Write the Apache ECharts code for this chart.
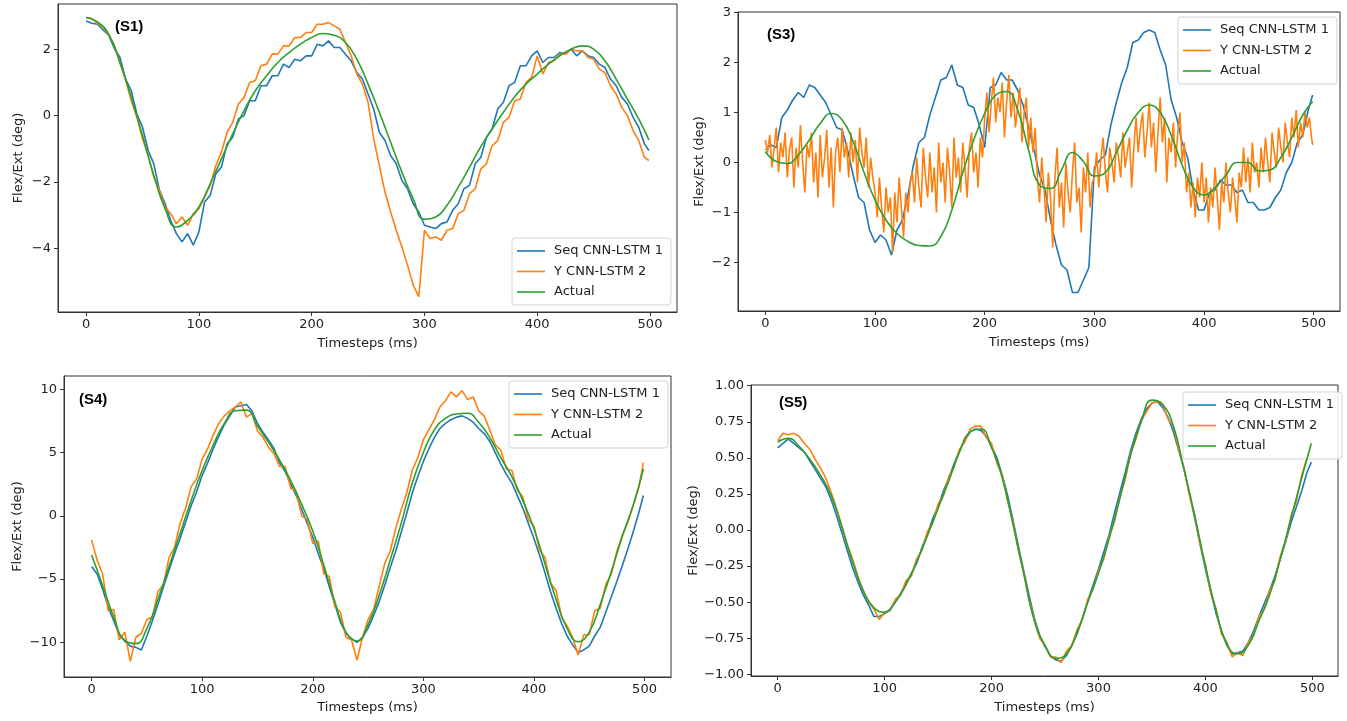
<!DOCTYPE html>
<html>
<head>
<meta charset="utf-8">
<script src="https://cdn.jsdelivr.net/npm/echarts@6/dist/echarts.min.js"></script>
<style>
  html, body { margin: 0; padding: 0; background: #fff; }
  #main { width: 1347px; height: 721px; }
</style>
</head>
<body>
<div id="main"></div>
<script>
// timesteps (ms): most predictions read every 5 ms, the very noisy S3 one every 2 ms, actual every 10 ms
function steps(n) {
  var out = [];
  for (var i = 0; i < 500; i += n) out.push(i);
  out.push(499);
  return out;
}
var t2 = steps(2);
var t5 = steps(5);
var t10 = steps(10);

var names = ['Seq CNN-LSTM 1', 'Y CNN-LSTM 2', 'Actual'];
var xTicks = [0, 100, 200, 300, 400, 500];

// ---- (S1)
var s1Seq = [2.85,2.78,2.75,2.58,2.42,2.02,1.75,1.1,0.75,0.05,
  -0.35,-1.05,-1.45,-2.25,-2.65,-3.15,-3.55,-3.8,-3.55,-3.9,
  -3.5,-2.6,-2.4,-1.75,-1.55,-0.85,-0.65,-0.1,0.0,0.45,
  0.45,0.9,0.9,1.2,1.2,1.55,1.45,1.7,1.65,1.8,
  1.8,2.15,2.1,2.25,2.05,2.05,1.85,1.65,1.3,1.1,
  0.65,0.2,-0.5,-0.75,-1.2,-1.45,-1.95,-2.2,-2.65,-2.9,
  -3.3,-3.35,-3.4,-3.25,-3.2,-2.85,-2.65,-2.2,-2.1,-1.45,
  -1.25,-0.65,-0.4,0.2,0.4,0.9,1.0,1.5,1.5,1.8,
  1.95,1.6,1.75,1.75,1.9,1.85,2.0,1.8,1.95,1.8,
  1.75,1.55,1.45,1.1,0.9,0.55,0.35,-0.05,-0.35,-0.85,
  -1.05];
var s1Y = [2.95,2.92,2.78,2.68,2.42,2.12,1.58,1.08,0.45,-0.05,
  -0.7,-1.2,-1.85,-2.25,-2.75,-2.95,-3.25,-3.05,-3.3,-2.95,
  -2.8,-2.45,-2.1,-1.5,-1.1,-0.5,-0.2,0.35,0.55,1.0,
  1.05,1.5,1.55,1.85,1.85,2.1,2.1,2.35,2.35,2.5,
  2.5,2.75,2.75,2.8,2.7,2.6,2.2,1.8,1.25,0.95,
  0.4,-0.7,-1.5,-2.3,-2.9,-3.45,-3.95,-4.5,-5.1,-5.45,
  -3.45,-3.7,-3.65,-3.75,-3.45,-3.4,-2.95,-2.85,-2.35,-2.2,
  -1.6,-1.45,-0.9,-0.75,-0.2,-0.05,0.45,0.5,1.0,1.15,
  1.8,1.25,1.6,1.65,1.85,1.85,2.0,1.95,1.95,1.75,
  1.7,1.4,1.3,0.9,0.65,0.25,0.0,-0.45,-0.75,-1.25,
  -1.35];
var s1Actual = [2.96,2.82,2.45,1.6,0.55,-0.6,-1.8,-2.8,-3.35,-3.15,
  -2.75,-2.05,-1.3,-0.55,0.15,0.75,1.2,1.6,1.9,2.15,
  2.35,2.47,2.42,2.2,1.7,0.95,0.1,-0.8,-1.7,-2.5,
  -3.12,-3.05,-2.7,-2.15,-1.55,-0.93,-0.4,0.1,0.57,0.95,
  1.25,1.55,1.8,2.0,2.1,2.0,1.65,1.1,0.5,-0.1,
  -0.73];

// ---- (S3)
var s3Seq = [0.25,0.35,0.3,0.9,1.05,1.25,1.4,1.3,1.55,1.5,
  1.35,1.2,0.95,0.7,0.65,0.25,-0.25,-0.7,-0.8,-1.35,
  -1.6,-1.45,-1.55,-1.85,-1.35,-1.15,-0.65,-0.05,0.4,0.5,
  0.95,1.3,1.65,1.7,1.95,1.55,1.5,1.15,1.1,0.75,
  0.3,1.5,1.55,1.8,1.65,1.65,1.45,1.15,0.7,0.25,
  -0.25,-0.55,-1.15,-1.65,-2.05,-2.15,-2.6,-2.6,-2.35,-2.1,
  -0.1,0.05,0.15,0.75,1.2,1.6,1.9,2.4,2.45,2.6,
  2.65,2.6,2.25,1.95,1.25,0.9,0.4,0.1,-0.55,-0.95,
  -0.95,-0.6,-0.55,-0.35,-0.45,-0.45,-0.6,-0.55,-0.8,-0.8,
  -0.95,-0.95,-0.9,-0.7,-0.55,-0.2,0.0,0.4,0.55,1.05,
  1.35];
// read every 2 ms
var s3Y = [0.45,0.2,0.55,-0.1,0.3,0.7,-0.2,0.4,0.1,0.6,-0.3,0.25,0.5,-0.5,0.3,-0.1,0.75,0.0,-0.6,0.35,0.1,0.6,-0.4,0.2,-0.7,
  0.55,-0.3,0.1,0.65,-0.5,0.3,-0.9,0.2,0.5,-0.2,0.7,0.1,0.4,-0.3,0.6,0.0,0.45,-0.4,0.7,0.2,-0.1,0.5,-0.5,0.1,-0.3,
  -0.6,-1.1,-0.3,-0.9,-1.4,-0.5,-1.0,-0.7,-1.8,-0.6,-1.2,-0.3,-0.9,-1.5,-0.6,-1.0,-0.4,-0.2,-0.8,0.1,-0.5,-0.9,0.3,-0.3,-0.7,
  0.2,-0.6,-0.1,-1.0,0.4,-0.4,0.0,-0.8,0.3,-0.2,-0.9,0.5,-0.3,0.1,-0.6,0.4,-0.1,-0.7,0.3,0.6,-0.2,0.2,-0.5,0.5,0.1,
  0.9,1.4,0.6,1.2,1.7,0.8,1.3,1.0,1.6,0.5,1.2,1.75,0.9,1.4,0.7,1.1,1.5,0.4,1.0,1.3,0.3,0.9,0.2,0.7,-0.3,
  -0.8,0.1,-0.5,-1.2,-0.2,-0.7,-1.7,-0.3,0.3,-0.9,-0.4,-1.3,0.0,-0.6,-1.0,-0.2,0.4,-0.8,-0.5,-1.4,-0.1,-0.6,0.2,-0.9,-0.4,
  -0.3,0.2,-0.5,0.1,0.5,-0.2,-0.6,0.3,0.0,-0.4,0.4,0.1,-0.3,0.6,-0.1,0.2,0.5,-0.5,0.3,0.9,0.2,0.7,1.0,0.1,0.6,
  1.2,0.3,0.8,-0.2,0.6,1.3,0.4,0.9,-0.4,0.5,0.2,0.8,-0.1,0.6,1.0,0.0,0.4,-0.6,-0.2,-0.9,-0.4,-1.1,-0.3,-0.7,0.0,
  -0.8,-0.3,-1.2,-0.5,-0.9,-0.1,-0.7,-1.35,-0.4,-0.8,0.0,-0.6,-1.0,-0.3,-0.7,-1.2,-0.2,-0.5,0.3,-0.4,0.1,-0.6,0.4,-0.2,0.0,
  -0.5,0.3,-0.2,0.5,0.0,-0.4,0.6,0.2,-0.1,0.7,0.3,0.0,0.8,0.4,0.1,0.9,0.5,1.05,0.3,0.8,0.5,1.0,0.7,0.9,0.5,
  0.35];
var s3Actual = [0.22,0.02,-0.02,0.15,0.45,0.78,0.98,0.85,0.42,-0.2,
  -0.75,-1.15,-1.42,-1.58,-1.66,-1.67,-1.48,-0.95,-0.2,0.45,
  0.98,1.35,1.42,1.05,0.25,-0.45,-0.52,-0.15,0.2,0.02,
  -0.27,-0.2,0.2,0.65,1.0,1.15,1.0,0.55,-0.05,-0.5,
  -0.65,-0.5,-0.25,0.0,0.0,-0.17,-0.15,0.1,0.5,0.95,
  1.22];

// ---- (S4)
var s4Seq = [-4.0,-4.6,-5.8,-7.2,-8.3,-9.4,-9.9,-10.3,-10.4,-10.6,
  -9.5,-8.3,-7.0,-5.6,-4.3,-3.0,-1.8,-0.5,0.8,1.9,
  3.2,4.2,5.3,6.3,7.2,7.9,8.6,8.7,8.8,8.3,
  7.3,6.6,6.0,5.3,4.2,3.5,2.5,1.6,0.5,-0.6,
  -1.7,-3.0,-4.2,-5.6,-7.0,-8.4,-9.3,-9.7,-10.0,-9.6,
  -8.9,-7.9,-6.8,-5.5,-4.1,-2.8,-1.3,0.2,1.8,3.1,
  4.3,5.3,6.2,6.9,7.3,7.6,7.8,7.9,7.7,7.4,
  6.9,6.5,5.9,5.0,4.1,3.3,2.6,1.6,0.6,-0.6,
  -1.8,-3.1,-4.5,-6.0,-7.3,-8.5,-9.5,-10.2,-10.8,-10.6,
  -10.3,-9.5,-8.8,-7.6,-6.4,-5.2,-3.9,-2.6,-1.2,0.3,
  1.6];
var s4Y = [-1.9,-3.5,-4.6,-7.5,-7.4,-9.8,-9.2,-11.5,-9.6,-9.3,
  -8.2,-8.0,-6.0,-5.4,-3.3,-2.5,-0.6,0.6,2.3,2.9,
  4.5,5.3,6.4,7.3,7.9,8.3,8.6,9.0,7.8,8.1,
  6.7,6.2,5.4,4.9,3.9,3.9,2.2,1.9,0.0,-0.3,
  -2.2,-2.0,-4.6,-4.8,-7.2,-7.6,-9.6,-9.8,-11.4,-9.6,
  -8.2,-7.4,-5.6,-3.8,-2.8,-1.0,0.5,1.8,3.6,4.6,
  6.0,6.8,7.6,8.6,9.1,9.8,9.4,9.9,9.2,9.4,
  8.3,7.9,6.8,5.6,5.2,3.7,3.6,2.0,1.5,-0.3,
  -0.8,-2.7,-3.3,-5.3,-5.9,-8.0,-8.7,-9.6,-11.0,-9.4,
  -9.4,-7.5,-7.3,-5.4,-4.6,-2.8,-1.5,-0.5,0.9,2.3,
  4.2];
var s4Actual = [-3.1,-5.5,-8.0,-9.85,-10.1,-8.9,-6.6,-4.0,-1.4,1.2,
  3.6,5.6,7.3,8.3,8.35,7.1,5.8,4.4,2.8,0.9,
  -1.2,-3.9,-6.8,-9.2,-9.9,-8.6,-6.3,-3.5,-0.6,2.6,
  5.0,6.8,7.7,8.05,8.1,7.4,6.2,4.6,3.1,1.2,
  -1.0,-3.8,-6.6,-8.9,-9.95,-9.2,-7.0,-4.4,-1.6,0.9,
  3.7];

// ---- (S5)
var s5Seq = [0.57,0.6,0.63,0.6,0.57,0.54,0.48,0.42,0.36,0.3,
  0.21,0.1,-0.02,-0.14,-0.26,-0.36,-0.45,-0.52,-0.6,-0.6,
  -0.58,-0.55,-0.5,-0.44,-0.37,-0.3,-0.23,-0.12,-0.03,0.08,
  0.16,0.27,0.36,0.46,0.55,0.62,0.68,0.7,0.69,0.65,
  0.58,0.5,0.38,0.24,0.07,-0.11,-0.28,-0.45,-0.61,-0.73,
  -0.81,-0.87,-0.9,-0.91,-0.87,-0.8,-0.72,-0.61,-0.49,-0.38,
  -0.27,-0.15,-0.03,0.12,0.26,0.4,0.55,0.67,0.77,0.84,
  0.88,0.89,0.85,0.78,0.68,0.55,0.42,0.25,0.08,-0.1,
  -0.27,-0.43,-0.58,-0.7,-0.8,-0.86,-0.85,-0.84,-0.78,-0.7,
  -0.6,-0.51,-0.42,-0.32,-0.2,-0.08,0.05,0.16,0.27,0.4,
  0.47];
var s5Y = [0.62,0.67,0.66,0.67,0.65,0.6,0.56,0.49,0.43,0.36,
  0.26,0.15,0.03,-0.1,-0.2,-0.32,-0.42,-0.5,-0.55,-0.62,
  -0.57,-0.56,-0.48,-0.45,-0.35,-0.32,-0.2,-0.14,-0.01,0.05,
  0.18,0.24,0.37,0.44,0.56,0.61,0.7,0.72,0.72,0.64,
  0.6,0.46,0.38,0.2,0.06,-0.14,-0.29,-0.48,-0.62,-0.75,
  -0.8,-0.88,-0.88,-0.92,-0.84,-0.8,-0.69,-0.62,-0.48,-0.41,
  -0.28,-0.2,-0.04,0.06,0.23,0.35,0.53,0.63,0.76,0.82,
  0.88,0.89,0.87,0.77,0.72,0.56,0.43,0.24,0.1,-0.1,
  -0.24,-0.44,-0.55,-0.72,-0.78,-0.88,-0.85,-0.87,-0.78,-0.73,
  -0.6,-0.55,-0.42,-0.35,-0.18,-0.08,0.1,0.2,0.38,0.5,
  0.62];
var s5Actual = [0.61,0.635,0.58,0.49,0.38,0.24,0.02,-0.22,-0.42,-0.54,
  -0.57,-0.5,-0.38,-0.22,-0.04,0.15,0.34,0.54,0.68,0.7,
  0.57,0.36,0.04,-0.3,-0.63,-0.8,-0.89,-0.86,-0.71,-0.5,
  -0.3,-0.06,0.22,0.52,0.75,0.9,0.87,0.72,0.42,0.1,
  -0.25,-0.56,-0.79,-0.86,-0.8,-0.63,-0.45,-0.2,0.08,0.36,
  0.6];

var panels = [
  { tag: '(S1)', seq: s1Seq, y: s1Y, yT: t5, actual: s1Actual, yMin: -5.91, yMax: 3.36, yTicks: [-4, -2, 0, 2], dec: 0 },
  { tag: '(S3)', seq: s3Seq, y: s3Y, yT: t2, actual: s3Actual, yMin: -2.97, yMax: 3.01, yTicks: [-2, -1, 0, 1, 2, 3], dec: 0 },
  { tag: '(S4)', seq: s4Seq, y: s4Y, yT: t5, actual: s4Actual, yMin: -12.74, yMax: 11.05, yTicks: [-10, -5, 0, 5, 10], dec: 0 },
  { tag: '(S5)', seq: s5Seq, y: s5Y, yT: t5, actual: s5Actual, yMin: -1.012, yMax: 1.005, yTicks: [-1, -0.75, -0.5, -0.25, 0, 0.25, 0.5, 0.75, 1], dec: 2 }
];

// layout of the four subplots
var grids = [
  { left: 58, top: 4, width: 619, height: 308 },
  { left: 738, top: 12, width: 602, height: 299 },
  { left: 64, top: 376, width: 607, height: 301 },
  { left: 751, top: 385, width: 587, height: 291 }
];
var yNameGap = [33, 32, 40, 48];
var xNameGap = [25, 25, 24, 25];
var legendPos = [
  { left: 512, top: 238 },
  { left: 1178, top: 17 },
  { left: 509, top: 381 },
  { left: 1183, top: 392 }
];
var tagPos = [[115, 27], [767, 35.5], [79, 400.5], [779, 403.5]];

var font = 'DejaVu Sans';
var ink = '#222';
var frame = '#333';
var colors = ['#1f77b4', '#ff7f0e', '#2ca02c'];
// thin bar in the middle of a 28x14 box, like a matplotlib legend handle
var handle = 'path://M0,0M0,6.2L28,6.2L28,7.8L0,7.8ZM28,14';

function pairs(ts, vals) {
  return ts.map(function (t, k) { return [t, vals[k]]; });
}
function minus(s) { return String(s).replace('-', '\u2212'); }

var option = {
  animation: false,
  backgroundColor: '#fff',
  grid: grids.map(function (g) {
    return Object.assign({ show: true, borderColor: frame, borderWidth: 1, backgroundColor: '#fff', containLabel: false }, g);
  }),
  xAxis: [],
  yAxis: [],
  legend: [],
  series: [],
  graphic: []
};

panels.forEach(function (p, i) {
  option.xAxis.push({
    type: 'value', gridIndex: i, min: -24.95, max: 523.95,
    name: 'Timesteps (ms)', nameLocation: 'middle', nameGap: xNameGap[i],
    nameTextStyle: { fontFamily: font, fontSize: 13, color: ink },
    axisLine: { show: true, onZero: false, lineStyle: { color: frame, width: 1 } },
    axisTick: { show: true, inside: false, length: 4, customValues: xTicks, lineStyle: { color: frame } },
    axisLabel: { customValues: xTicks, margin: 6, fontFamily: font, fontSize: 13, color: ink },
    splitLine: { show: false }
  });
  option.yAxis.push({
    type: 'value', gridIndex: i, min: p.yMin, max: p.yMax,
    name: 'Flex/Ext (deg)', nameLocation: 'middle', nameGap: yNameGap[i],
    nameTextStyle: { fontFamily: font, fontSize: 13, color: ink },
    axisLine: { show: true, onZero: false, lineStyle: { color: frame, width: 1 } },
    axisTick: { show: true, inside: false, length: 4, customValues: p.yTicks, lineStyle: { color: frame } },
    axisLabel: {
      customValues: p.yTicks, margin: 7, fontFamily: font, fontSize: 13, color: ink,
      formatter: function (v) { return minus(p.dec ? v.toFixed(p.dec) : v); }
    },
    splitLine: { show: false }
  });

  var sets = [pairs(t5, p.seq), pairs(p.yT, p.y), pairs(t10, p.actual)];
  sets.forEach(function (d, k) {
    option.series.push({
      name: names[k], type: 'line', xAxisIndex: i, yAxisIndex: i,
      data: d, symbol: 'none', smooth: k === 2,
      lineStyle: { color: colors[k], width: 1.6 },
      itemStyle: { color: colors[k] },
      z: 2 + k
    });
  });

  option.legend.push({
    data: names.map(function (n) { return { name: n, icon: handle }; }),
    orient: 'vertical',
    left: legendPos[i].left, top: legendPos[i].top,
    itemWidth: 28, itemHeight: 14, itemGap: 6.5,
    padding: [6, 8, 6, 5],
    backgroundColor: 'rgba(255,255,255,0.85)',
    borderColor: '#d4d4d4', borderWidth: 1, borderRadius: 3,
    selectedMode: false,
    textStyle: { fontFamily: font, fontSize: 13, color: ink, padding: [0, 0, 0, 4] }
  });

  option.graphic.push({
    type: 'text', left: tagPos[i][0], top: tagPos[i][1] - 8, z: 10,
    style: { text: p.tag, font: 'bold 15px "Liberation Sans", Arial, sans-serif', fill: '#000' }
  });
});

var chart = echarts.init(document.getElementById('main'));
chart.setOption(option);
</script>
</body>
</html>
